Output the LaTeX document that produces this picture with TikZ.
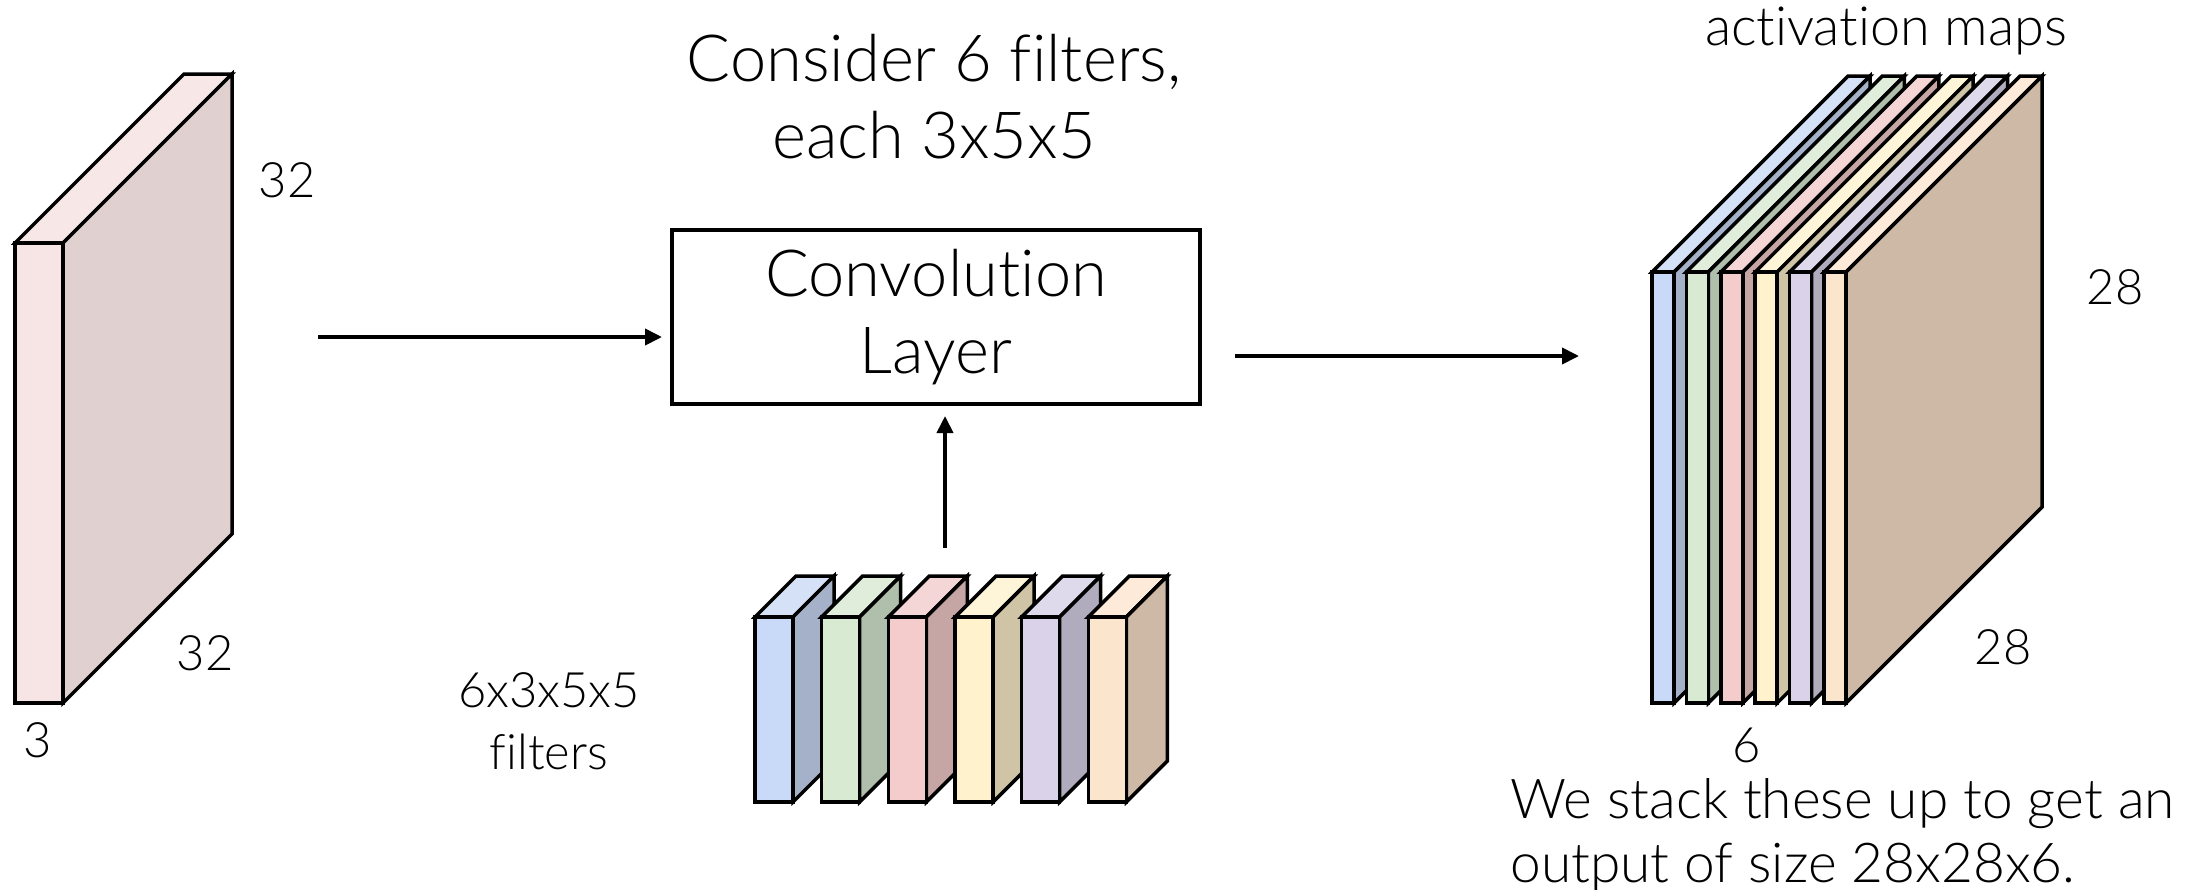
\documentclass[tikz,border=0pt]{standalone}
\usepackage{fontspec}
\IfFontExistsTF{Lato Light}{\setmainfont{Lato Light}[Ligatures=NoCommon]}{\setmainfont{Lato}[Ligatures=NoCommon]}
\usetikzlibrary{arrows.meta}
\definecolor{iF}{HTML}{F7E4E4}\definecolor{iT}{HTML}{F8E7E7}\definecolor{iS}{HTML}{E0D0D0}
\definecolor{bF}{HTML}{C9DAF8}\definecolor{bT}{HTML}{D5E1F7}\definecolor{bS}{HTML}{A4B1C9}
\definecolor{gF}{HTML}{D9EAD3}\definecolor{gT}{HTML}{DFEDDA}\definecolor{gS}{HTML}{AFBFAC}
\definecolor{rF}{HTML}{F4CCCC}\definecolor{rT}{HTML}{F5D6D7}\definecolor{rS}{HTML}{C6A5A5}
\definecolor{yF}{HTML}{FFF2CC}\definecolor{yT}{HTML}{FEF4D7}\definecolor{yS}{HTML}{CFC4A6}
\definecolor{pF}{HTML}{D9D2E9}\definecolor{pT}{HTML}{DFDAEB}\definecolor{pS}{HTML}{B0ACBD}
\definecolor{oF}{HTML}{FCE5CD}\definecolor{oT}{HTML}{FDEAD8}\definecolor{oS}{HTML}{CDB9A6}
% #1 x left, #2 y top, #3 width, #4 height, #5 depth, #6 front, #7 top, #8 side
\newcommand\cubo[8]{%
  \filldraw[blk,fill=#7] (#1,#2) -- ({#1+#5},{#2-#5}) -- ({#1+#3+#5},{#2-#5}) -- ({#1+#3},#2) -- cycle;
  \filldraw[blk,fill=#8] ({#1+#3},#2) -- ({#1+#3+#5},{#2-#5}) -- ({#1+#3+#5},{#2+#4-#5}) -- ({#1+#3},{#2+#4}) -- cycle;
  \filldraw[blk,fill=#6] (#1,#2) rectangle ({#1+#3},{#2+#4});
}
\begin{document}
\begin{tikzpicture}[x=0.5pt,y=-0.5pt,
  blk/.style={draw=black,line width=1.75pt},
  arr/.style={line width=1.9pt,-{Triangle[length=8.5pt,width=8pt]}},
  lbl/.style={font=\fontsize{24.4}{31}\selectfont,inner sep=0pt},
  big/.style={font=\fontsize{32.5}{38.5}\selectfont,inner sep=0pt,align=center},
  note/.style={font=\fontsize{27.5}{32}\selectfont,inner sep=0pt,align=left},
  convbox/.style={draw=black,line width=2pt,minimum width=264pt,minimum height=87pt,inner sep=0pt,align=center,font=\fontsize{32.5}{38.5}\selectfont}]
\useasboundingbox (0,0) rectangle (2205,889);

% input volume
\cubo{15}{243}{48}{460}{169}{iF}{iT}{iS}
\node[lbl] (in32a) at (287,180) {32};
\node[lbl] (in32b) at (205,653) {32};
\node[lbl] (in3) at (38,740) {3};

% title
\node[big,anchor=base] (title) at (934,158) {Consider 6 filters,\\each 3x5x5};

% convolution layer
\node[convbox] (conv) at (936,317) {Convolution\\Layer};

% filters
\foreach \i/\f/\t/\s in {0/bF/bT/bS,1/gF/gT/gS,2/rF/rT/rS,3/yF/yT/yS,4/pF/pT/pS,5/oF/oT/oS}{
  \pgfmathsetmacro\xx{755+66.67*\i}
  \cubo{\xx}{617}{38}{185}{41}{\f}{\t}{\s}
}
\node[lbl,align=center] (flab) at (549,721) {6x3x5x5\\filters};

% activation maps
\foreach \i/\f/\t/\s in {0/bF/bT/bS,1/gF/gT/gS,2/rF/rT/rS,3/yF/yT/yS,4/pF/pT/pS,5/oF/oT/oS}{
  \pgfmathsetmacro\xx{1652+34.4*\i}
  \cubo{\xx}{272}{22}{431}{196}{\f}{\t}{\s}
}
\node[lbl,anchor=base,font=\fontsize{27}{31}\selectfont] (amaps) at (1886,45) {activation maps};
\node[lbl] (out28a) at (2115,287) {28};
\node[lbl] (out28b) at (2003,647) {28};
\node[lbl] (out6) at (1747,745) {6};
\node[note,anchor=base west] (st1) at (1510,818) {We stack these up to get an};
\node[note,anchor=base west] (st2) at (1510,882) {output of size 28x28x6.};

% connectors
\coordinate (a1s) at (318,337);
\coordinate (a2s) at (945,548);
\coordinate (a3e) at (1579,356);
\draw[arr,shorten >=4pt] (a1s) -- (a1s -| conv.west);
\draw[arr,shorten >=5pt] (a2s) -- (a2s |- conv.south);
\draw[arr,shorten <=16.5pt] (a3e -| conv.east) -- (a3e);
\end{tikzpicture}
\end{document}
